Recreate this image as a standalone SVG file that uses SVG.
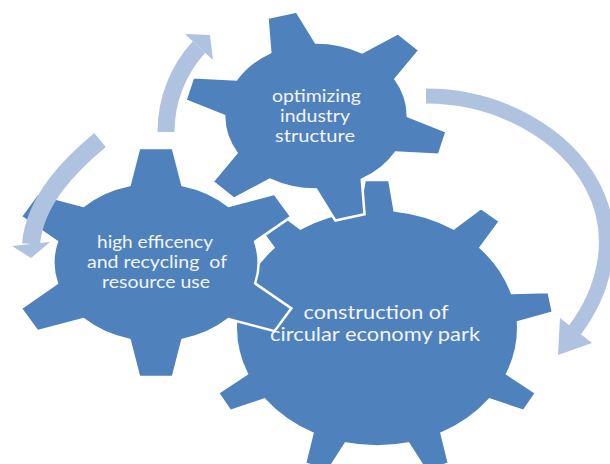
<svg xmlns="http://www.w3.org/2000/svg" xmlns:xlink="http://www.w3.org/1999/xlink" width="610" height="464" viewBox="0 0 610 464">
<style>
.gear{fill:#4F81BD;stroke:#FFFFFF;stroke-width:2.5;stroke-linejoin:miter}
.lbl{font-family:Lato,"Open Sans","Liberation Sans",sans-serif;fill:#F2F5FA;text-anchor:middle}
.shaft{fill:none;stroke:#AFC2DF;stroke-linecap:butt}
.head{fill:#AFC2DF}
</style>
<defs>
<path id="g6" vector-effect="non-scaling-stroke" d="M -18,-67.65 L -11.5,-100 L 11.5,-100 L 18,-67.65 A 70 70 0 0 1 49.585,-49.413 L 80.85,-59.96 L 92.35,-40.04 L 67.585,-18.237 A 70 70 0 0 1 67.585,18.237 L 92.35,40.04 L 80.85,59.96 L 49.585,49.413 A 70 70 0 0 1 18,67.65 L 11.5,100 L -11.5,100 L -18,67.65 A 70 70 0 0 1 -49.585,49.413 L -80.85,59.96 L -92.35,40.04 L -67.585,18.237 A 70 70 0 0 1 -67.585,-18.237 L -92.35,-40.04 L -80.85,-59.96 L -49.585,-49.413 A 70 70 0 0 1 -18,-67.65 Z"/>
<path id="g9" vector-effect="non-scaling-stroke" d="M -10,-79.37 L -7,-100 L 7,-100 L 10,-79.37 A 80 80 0 0 1 43.36,-67.23 L 58.92,-81.10 L 69.64,-72.10 L 58.68,-54.37 A 80 80 0 0 1 76.42,-23.63 L 97.27,-24.25 L 99.70,-10.47 L 79.90,-3.93 A 80 80 0 0 1 73.74,31.03 L 90.10,43.94 L 83.10,56.06 L 63.74,48.35 A 80 80 0 0 1 36.54,71.16 L 40.78,91.58 L 27.62,96.36 L 17.75,78.00 A 80 80 0 0 1 -17.75,78.00 L -27.62,96.36 L -40.78,91.58 L -36.54,71.16 A 80 80 0 0 1 -63.74,48.35 L -83.10,56.06 L -90.10,43.94 L -73.74,31.03 A 80 80 0 0 1 -79.90,-3.93 L -99.70,-10.47 L -97.27,-24.25 L -76.42,-23.63 A 80 80 0 0 1 -58.68,-54.37 L -69.64,-72.10 L -58.92,-81.10 L -43.36,-67.23 A 80 80 0 0 1 -10,-79.37 Z"/>
</defs>
<g id="gear-park">
<use xlink:href="#g9" href="#g9" class="gear" transform="translate(377,328) scale(1.765,1.48)"/>
<text class="lbl" font-size="20" x="376" y="319" textLength="145" lengthAdjust="spacingAndGlyphs">construction of</text>
<text class="lbl" font-size="20" x="375" y="341" textLength="210" lengthAdjust="spacingAndGlyphs">circular economy park</text>
</g>
<g id="gear-resource">
<use xlink:href="#g6" href="#g6" class="gear" transform="translate(156,262.5) scale(1.466,1.145)"/>
<text class="lbl" font-size="18" x="155" y="248" textLength="116" lengthAdjust="spacingAndGlyphs">high efficency</text>
<text class="lbl" font-size="18" x="157" y="268" textLength="140" lengthAdjust="spacingAndGlyphs" xml:space="preserve">and recycling  of</text>
<text class="lbl" font-size="18" x="156" y="288" textLength="108" lengthAdjust="spacingAndGlyphs">resource use</text>
</g>
<g id="gear-industry">
<use xlink:href="#g6" href="#g6" class="gear" transform="translate(316,116) scale(1.3125,1.05) rotate(-15)"/>
<text class="lbl" font-size="18" x="316.5" y="102" textLength="89" lengthAdjust="spacingAndGlyphs">optimizing</text>
<text class="lbl" font-size="18" x="315" y="122" textLength="70" lengthAdjust="spacingAndGlyphs">industry</text>
<text class="lbl" font-size="18" x="315" y="142" textLength="80" lengthAdjust="spacingAndGlyphs">structure</text>
</g>
<g id="connectors">
<path class="shaft" stroke-width="17" d="M166,132 C166,100 178,70 199,47"/>
<polygon class="head" points="185,34 213,60 210,35"/>
<path class="shaft" stroke-width="15" d="M426,96 C500,96 565,135 592,185 C619,235 605,290 575,330"/>
<polygon class="head" points="560,318 592,343 558,355"/>
<path class="shaft" stroke-width="18" d="M100,140 C70,165 35,200 31,244"/>
<polygon class="head" points="12,246 50,242 31,258"/>
</g>
</svg>
